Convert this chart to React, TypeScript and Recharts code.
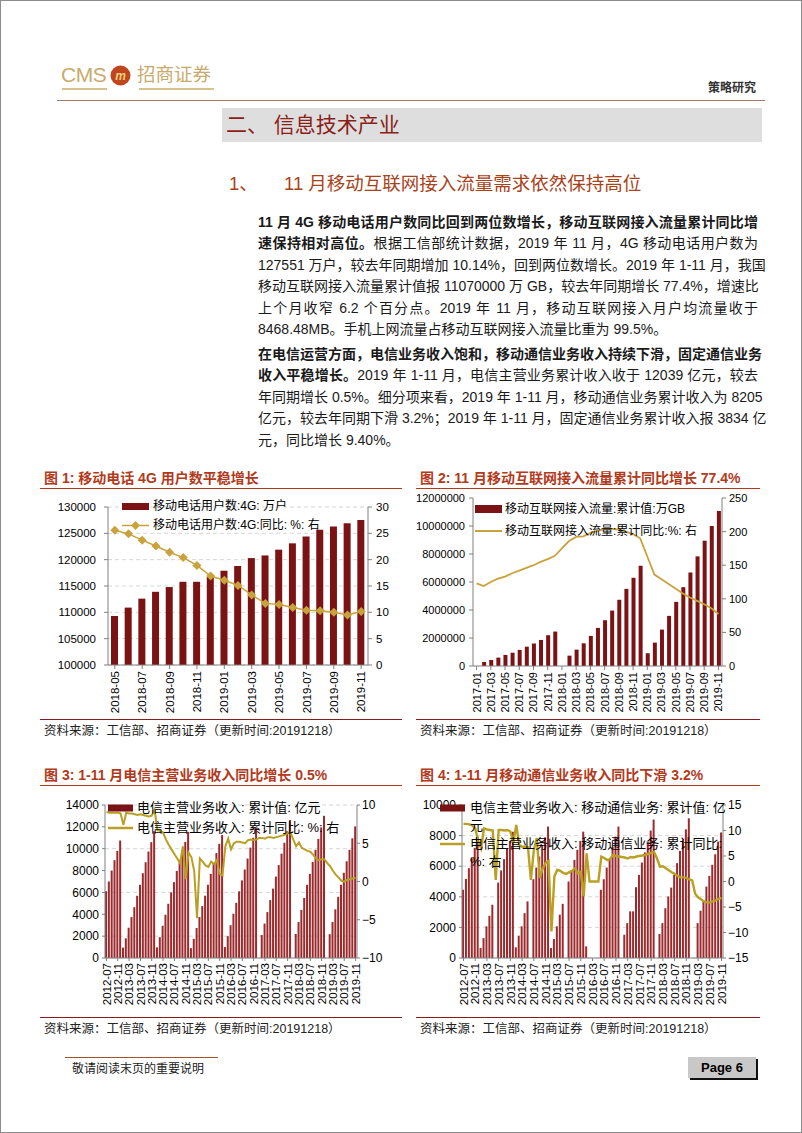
import React from "react";
import { ComposedChart, Bar, Line, XAxis, YAxis, CartesianGrid, Legend } from "recharts";

const FONT = '"Liberation Sans", Arial, "Noto Sans CJK SC", sans-serif';
const BAR = "#7b1214";
const GOLD = "#c9a23c";
const OLIVE = "#b9a024";
const AX = "#808080";
const RED_T = "#b23a1c";

// ---------- chart 1: 4G users ----------
const months1 = "2018-05 2018-06 2018-07 2018-08 2018-09 2018-10 2018-11 2018-12 2019-01 2019-02 2019-03 2019-04 2019-05 2019-06 2019-07 2019-08 2019-09 2019-10 2019-11".split(" ");
const users4g = [109300, 110900, 112600, 113900, 114800, 115800, 115800, 116700, 117900, 118800, 120300, 120800, 121900, 123100, 124400, 125700, 126300, 126900, 127551];
const users4gYoy = [25.6, 24.9, 23.7, 22.6, 21.4, 20.4, 18.9, 16.9, 16.1, 15.1, 13.3, 11.7, 11.5, 10.9, 10.4, 10.3, 10.0, 9.5, 10.14];
const ticks1L = [100000, 105000, 110000, 115000, 120000, 125000, 130000];
const ticks1R = [0, 5, 10, 15, 20, 25, 30];

// ---------- chart 2: mobile internet traffic ----------
const months2 = (
  "2017-01 2017-02 2017-03 2017-04 2017-05 2017-06 2017-07 2017-08 2017-09 2017-10 2017-11 2017-12 " +
  "2018-01 2018-02 2018-03 2018-04 2018-05 2018-06 2018-07 2018-08 2018-09 2018-10 2018-11 2018-12 " +
  "2019-01 2019-02 2019-03 2019-04 2019-05 2019-06 2019-07 2019-08 2019-09 2019-10 2019-11"
).split(" ");
const traffic = [
  null, 290000, 430000, 600000, 790000, 950000, 1150000, 1380000, 1600000, 1860000, 2200000, 2460000,
  null, 740000, 1170000, 1620000, 2150000, 2720000, 3270000, 3960000, 4730000, 5510000, 6300000, 7160000,
  910000, 1670000, 2600000, 3580000, 4580000, 5630000, 6680000, 7830000, 8950000, 10000000, 11070000,
];
const trafficYoy = [
  123, 119, 125, 130, 133, 138, 142, 146, 150, 155, 159, 164,
  175, 186, 192, 193, 198, 201, 204, 204, 203, 200, 196, 190,
  163, 136, 129, 122, 115, 108, 102, 97, 92, 86, 77.4,
];
const ticks2L = [0, 2000000, 4000000, 6000000, 8000000, 10000000, 12000000];
const ticks2R = [0, 50, 100, 150, 200, 250];

// ---------- charts 3 & 4: monthly categories ----------
const months3 = (
  "2012-07 2012-08 2012-09 2012-10 2012-11 2012-12 " +
  "2013-01 2013-02 2013-03 2013-04 2013-05 2013-06 2013-07 2013-08 2013-09 2013-10 2013-11 2013-12 " +
  "2014-01 2014-02 2014-03 2014-04 2014-05 2014-06 2014-07 2014-08 2014-09 2014-10 2014-11 2014-12 " +
  "2015-01 2015-02 2015-03 2015-04 2015-05 2015-06 2015-07 2015-08 2015-09 2015-10 2015-11 2015-12 " +
  "2016-01 2016-02 2016-03 2016-04 2016-05 2016-06 2016-07 2016-08 2016-09 2016-10 2016-11 2016-12 " +
  "2017-01 2017-02 2017-03 2017-04 2017-05 2017-06 2017-07 2017-08 2017-09 2017-10 2017-11 2017-12 " +
  "2018-01 2018-02 2018-03 2018-04 2018-05 2018-06 2018-07 2018-08 2018-09 2018-10 2018-11 2018-12 " +
  "2019-01 2019-02 2019-03 2019-04 2019-05 2019-06 2019-07 2019-08 2019-09 2019-10 2019-11"
).split(" ");

const telecomRev = [
  6100, 7000, 8000, 8950, 9800, 10750,
  950, 1800, 2770, 3740, 4650, 5690, 6700, 7760, 8760, 9740, 10600, 11600,
  970, 1900, 2950, 3960, 4960, 6000, 6940, 7970, 8980, 9900, 10620, 11540,
  900, 1750, 2750, 3750, 4750, 5700, 6700, 7700, 8700, 9600, 10450, 11250,
  1000, 2000, 3000, 4050, 5050, 6100, 7100, 8100, 9100, 10100, 11000, 11900,
  null, 2100, 3150, 4200, 5300, 6350, 7450, 8500, 9550, 10550, 11600, 12620,
  null, 2200, 3300, 4400, 5500, 6700, 7700, 8800, 9900, 10900, 11950, 13010,
  null, 2180, 3300, 4450, 5600, 6700, 7800, 8850, 9900, 10950, 12039,
];
const telecomYoy = [
  9.1, 9.0, 9.0, 9.0, 9.0, 8.9,
  7.4, 9.0, 8.9, 8.9, 8.8, 8.7, 8.8, 8.7, 8.6, 8.5, 8.6, 9.4,
  6.7, 6.6, 6.4, 5.5, 4.8, 4.2, 3.6, 3.0, 2.4, 4.6, 0.3, 3.8,
  3.2, 1.4, -4.8, 3.0, 2.6, 2.1, 1.9, 2.6, 2.3, 2.8, 1.0, 0.8,
  4.6, 5.6, 4.2, 5.0, 5.2, 5.2, 5.1, 5.0, 5.4, 5.5, 5.4, 5.5,
  5.7, 5.7, 5.6, 5.8, 5.8, 5.7, 5.8, 5.9, 6.0, 6.1, 6.3, 6.4,
  5.5, 4.6, 5.1, 4.4, 4.2, 4.0, 3.9, 3.5, 3.0, 2.8, 2.9, 2.9,
  2.4, 2.0, 1.4, 0.9, 0.5, 0.1, 0.0, 0.2, 0.3, 0.4, 0.5,
];
const ticks3L = [0, 2000, 4000, 6000, 8000, 10000, 12000, 14000];
const ticks3R = [-10, -5, 0, 5, 10];

const mobileRev = [
  4460, 5170, 5870, 6520, 7200, 7930,
  650, 1300, 2070, 2760, 3480, null, 4930, 5720, 6460, 7150, 7650, 8250,
  700, 1460, 2070, 2930, 3700, null, 5150, 5910, 6630, 7390, 7890, 8590,
  650, 1240, 2070, 2830, 3540, null, 5000, 5720, 6410, 7070, 7650, 8260,
  760, null, null, null, null, 4460, 5150, 5910, 6410, 7280, 7930, 8590,
  null, 1520, 2280, 3050, 3050, 4630, 5430, 6240, 6900, 7620, 8330, 9050,
  null, 1570, 2280, 3250, 4020, 4600, 5430, 6200, 7000, 7760, 8410, 9130,
  null, null, 2280, 3090, 3760, 4670, 5370, 6090, 6780, 7610, 8205,
];
const mobileYoy = [
  11.3, 11.3, 11.2, 11.0, 10.4, 8.0,
  6.5, 10.4, 10.2, 10.1, 10.0, 0.3, 10.1, 10.1, 10.0, 10.1, 9.8, 7.5,
  11.1, 7.2, 6.8, 6.8, 6.7, 0.3, 6.2, 8.5, 0.7, 2.5, 3.6, 4.0,
  -9.8, 1.0, 2.3, 2.1, 1.7, 1.5, 1.8, 2.1, 2.6, 1.6, 1.9, -2.9,
  5.5, 0, 0, 0, 0, 4.9, 4.6, 4.2, 4.4, 5.2, 5.0, 4.9,
  4.8, 4.7, 4.5, 4.8, 4.7, 4.9, 5.0, 5.1, 5.2, 5.4, 5.6, 5.8,
  4.5, 2.9, 3.0, 2.6, 2.2, 1.8, 1.5, 1.1, 0.8, 0.8, 0.7, 0.4,
  0.2, -2.4, -3.1, -3.5, -3.9, -4.1, -4.1, -3.9, -3.7, -3.4, -3.2,
];
const ticks4L = [0, 2000, 4000, 6000, 8000, 10000];
const ticks4R = [-15, -10, -5, 0, 5, 10, 15];

const data1 = months1.map((m, i) => ({ m, v: users4g[i], y: users4gYoy[i] }));
const data2 = months2.map((m, i) => ({ m, v: traffic[i], y: trafficYoy[i] }));
const data3 = months3.map((m, i) => ({ m, v: telecomRev[i], y: telecomYoy[i] }));
const data4 = months3.map((m, i) => ({ m, v: mobileRev[i], y: mobileYoy[i] }));

const minus = (v: number) => String(v).replace("-", "−");

// rotated x tick, reads bottom-to-top
function VTick(props: any) {
  const { x, y, payload, fs } = props;
  return (
    <text
      x={x}
      y={y}
      transform={`rotate(-90 ${x} ${y})`}
      textAnchor="end"
      dy="0.36em"
      fontSize={fs}
      fontFamily={FONT}
      fill="#000"
    >
      {payload.value}
    </text>
  );
}

function Diamond(props: any) {
  const { cx, cy } = props;
  if (cx == null || cy == null) return <g />;
  const r = 4.5;
  return <path d={`M${cx},${cy - r}L${cx + r},${cy}L${cx},${cy + r}L${cx - r},${cy}Z`} fill={GOLD} />;
}

type LegItem = { kind: "bar" | "line" | "dia"; color: string; lines: string[]; lw?: number };

function LegendBlock({ items, sw, sh, lh, fs, gap }: { items: LegItem[]; sw: number; sh: number; lh: number; fs: number; gap: number }) {
  return (
    <div style={{ fontFamily: FONT, fontSize: fs, lineHeight: `${lh}px`, color: "#000" }}>
      {items.map((it, i) => (
        <div key={i} style={{ display: "flex" }}>
          <svg width={sw} height={lh} style={{ flex: "none", display: "block" }}>
            {it.kind === "bar" ? (
              <rect x={0} y={(lh - sh) / 2} width={sw} height={sh} fill={it.color} />
            ) : (
              <g>
                <line x1={0} x2={sw} y1={lh / 2} y2={lh / 2} stroke={it.color} strokeWidth={it.lw || 2} />
                {it.kind === "dia" && <Diamond cx={sw / 2} cy={lh / 2} />}
              </g>
            )}
          </svg>
          <div style={{ marginLeft: gap, whiteSpace: "nowrap" }}>
            {it.lines.map((l, j) => (
              <div key={j}>{l}</div>
            ))}
          </div>
        </div>
      ))}
    </div>
  );
}

const tickStyle = (fs: number) => ({ fontSize: fs, fill: "#000", fontFamily: FONT });

function Title({ x, y, w, text }: { x: number; y: number; w: number; text: string }) {
  return (
    <>
      <div style={{ position: "absolute", left: x + 4, top: y - 10, fontSize: 14, fontWeight: 700, color: RED_T, whiteSpace: "nowrap", lineHeight: "20px" }}>
        {text}
      </div>
      <div style={{ position: "absolute", left: x, top: y + 10, width: w, height: 1, background: RED_T }} />
    </>
  );
}

function Source({ x, y, w }: { x: number; y: number; w: number }) {
  return (
    <>
      <div style={{ position: "absolute", left: x, top: y, width: w, height: 1, background: "#8b1a1a" }} />
      <div style={{ position: "absolute", left: x + 4, top: y + 3, fontSize: 12.5, color: "#222", whiteSpace: "nowrap", lineHeight: "18px" }}>
        资料来源：工信部、招商证券（更新时间:20191218）
      </div>
    </>
  );
}

function Chart1() {
  return (
    <div style={{ position: "absolute", left: 40, top: 495 }}>
      <ComposedChart width={370} height={225} data={data1} margin={{ top: 12, right: 12, bottom: 5, left: 8 }}>
        <CartesianGrid yAxisId="l" vertical={false} stroke="#d6d6d6" strokeDasharray="4 3" />
        <XAxis dataKey="m" interval={1} height={50} tickSize={4} tickMargin={2} tick={<VTick fs={11.5} />} axisLine={{ stroke: AX }} tickLine={{ stroke: AX }} />
        <YAxis yAxisId="l" domain={[100000, 130000]} ticks={ticks1L} width={60} tickSize={4} tickMargin={8} tick={tickStyle(11.5)} axisLine={{ stroke: AX }} tickLine={{ stroke: AX }} />
        <YAxis yAxisId="r" orientation="right" domain={[0, 30]} ticks={ticks1R} width={30} tickSize={4} tickMargin={4} tick={tickStyle(11.5)} axisLine={{ stroke: AX }} tickLine={{ stroke: AX }} />
        <Bar yAxisId="l" dataKey="v" name="移动电话用户数:4G: 万户" fill={BAR} barSize={7} isAnimationActive={false} />
        <Line yAxisId="r" dataKey="y" name="移动电话用户数:4G:同比: %: 右" stroke={GOLD} strokeWidth={1.5} dot={Diamond} isAnimationActive={false} />
        <Legend
          layout="vertical"
          verticalAlign="middle"
          align="center"
          wrapperStyle={{ left: 82, top: 2, width: 250 }}
          content={() => (
            <LegendBlock
              sw={27}
              sh={7}
              lh={19}
              fs={12}
              gap={4}
              items={[
                { kind: "bar", color: BAR, lines: ["移动电话用户数:4G: 万户"] },
                { kind: "dia", color: GOLD, lw: 1.5, lines: ["移动电话用户数:4G:同比: %: 右"] },
              ]}
            />
          )}
        />
      </ComposedChart>
    </div>
  );
}

function Chart2() {
  return (
    <div style={{ position: "absolute", left: 405, top: 488 }}>
      <ComposedChart width={397} height={232} data={data2} margin={{ top: 10, right: 40, bottom: 4, left: 3 }}>
        <XAxis dataKey="m" interval={1} height={50} tickSize={4} tickMargin={2} tick={<VTick fs={11} />} axisLine={{ stroke: AX }} tickLine={{ stroke: AX }} />
        <YAxis yAxisId="l" domain={[0, 12000000]} ticks={ticks2L} width={65} tickSize={4} tickMargin={4} tick={tickStyle(11)} axisLine={{ stroke: AX }} tickLine={{ stroke: AX }} />
        <YAxis yAxisId="r" orientation="right" domain={[0, 250]} ticks={ticks2R} width={40} tickSize={4} tickMargin={3} tick={tickStyle(11)} axisLine={{ stroke: AX }} tickLine={{ stroke: AX }} />
        <Bar yAxisId="l" dataKey="v" name="移动互联网接入流量:累计值:万GB" fill={BAR} barSize={4} isAnimationActive={false} />
        <Line yAxisId="r" dataKey="y" name="移动互联网接入流量:累计同比:%: 右" stroke={GOLD} strokeWidth={1.8} dot={false} isAnimationActive={false} />
        <Legend
          layout="vertical"
          verticalAlign="middle"
          align="center"
          wrapperStyle={{ left: 70, top: 10, width: 260 }}
          content={() => (
            <LegendBlock
              sw={27}
              sh={8}
              lh={22}
              fs={12}
              gap={3}
              items={[
                { kind: "bar", color: BAR, lines: ["移动互联网接入流量:累计值:万GB"] },
                { kind: "line", color: GOLD, lw: 2, lines: ["移动互联网接入流量:累计同比:%: 右"] },
              ]}
            />
          )}
        />
      </ComposedChart>
    </div>
  );
}

function Chart3() {
  return (
    <div style={{ position: "absolute", left: 40, top: 795 }}>
      <ComposedChart width={370} height={220} data={data3} margin={{ top: 10, right: 18, bottom: 5, left: 5 }}>
        <CartesianGrid yAxisId="l" vertical={false} stroke="#d6d6d6" strokeDasharray="4 3" />
        <XAxis dataKey="m" interval={3} height={52} tickSize={3} tickMargin={2} tick={<VTick fs={11.5} />} axisLine={{ stroke: AX }} tickLine={{ stroke: AX }} />
        <YAxis yAxisId="l" domain={[0, 14000]} ticks={ticks3L} width={60} tickSize={3} tickMargin={3} tick={tickStyle(12)} axisLine={{ stroke: AX }} tickLine={{ stroke: AX }} />
        <YAxis yAxisId="r" orientation="right" domain={[-10, 10]} ticks={ticks3R} width={35} tickSize={3} tickMargin={2} tick={tickStyle(12)} tickFormatter={minus} axisLine={{ stroke: AX }} tickLine={{ stroke: AX }} />
        <Bar yAxisId="l" dataKey="v" name="电信主营业务收入: 累计值: 亿元" fill="#9a2a2c" barSize={2} isAnimationActive={false} />
        <Line yAxisId="r" dataKey="y" name="电信主营业务收入: 累计同比: %: 右" stroke={OLIVE} strokeWidth={2} dot={false} isAnimationActive={false} />
        <Legend
          layout="vertical"
          verticalAlign="middle"
          align="center"
          wrapperStyle={{ left: 68, top: 3, width: 260 }}
          content={() => (
            <LegendBlock
              sw={25}
              sh={7}
              lh={20}
              fs={13}
              gap={4}
              items={[
                { kind: "bar", color: BAR, lines: ["电信主营业务收入: 累计值: 亿元"] },
                { kind: "line", color: OLIVE, lw: 2.5, lines: ["电信主营业务收入: 累计同比: %: 右"] },
              ]}
            />
          )}
        />
      </ComposedChart>
    </div>
  );
}

function Chart4() {
  return (
    <div style={{ position: "absolute", left: 405, top: 795 }}>
      <ComposedChart width={397} height={220} data={data4} margin={{ top: 10, right: 39, bottom: 5, left: 3 }}>
        <CartesianGrid yAxisId="l" vertical={false} stroke="#d6d6d6" strokeDasharray="4 3" />
        <XAxis dataKey="m" interval={3} height={52} tickSize={3} tickMargin={2} tick={<VTick fs={11.5} />} axisLine={{ stroke: AX }} tickLine={{ stroke: AX }} />
        <YAxis yAxisId="l" domain={[0, 10000]} ticks={ticks4L} width={54} tickSize={3} tickMargin={3} tick={tickStyle(12)} axisLine={{ stroke: AX }} tickLine={{ stroke: AX }} />
        <YAxis yAxisId="r" orientation="right" domain={[-15, 15]} ticks={ticks4R} width={40} tickSize={3} tickMargin={2} tick={tickStyle(12)} tickFormatter={minus} axisLine={{ stroke: AX }} tickLine={{ stroke: AX }} />
        <Bar yAxisId="l" dataKey="v" name="电信主营业务收入: 移动通信业务: 累计值: 亿元" fill="#9a2a2c" barSize={2} isAnimationActive={false} />
        <Line yAxisId="r" dataKey="y" name="电信主营业务收入: 移动通信业务: 累计同比: %: 右" stroke={OLIVE} strokeWidth={2.4} dot={false} isAnimationActive={false} />
        <Legend
          layout="vertical"
          verticalAlign="middle"
          align="center"
          wrapperStyle={{ left: 35, top: 4, width: 300 }}
          content={() => (
            <LegendBlock
              sw={25}
              sh={7}
              lh={18}
              fs={13}
              gap={5}
              items={[
                { kind: "bar", color: BAR, lines: ["电信主营业务收入: 移动通信业务: 累计值: 亿", "元"] },
                { kind: "line", color: OLIVE, lw: 2.5, lines: ["电信主营业务收入: 移动通信业务: 累计同比:", "%: 右"] },
              ]}
            />
          )}
        />
      </ComposedChart>
    </div>
  );
}

const para1: { b?: string; t: string }[] = [
  { b: "11 月 4G 移动电话用户数同比回到两位数增长，移动互联网接入流量累计同比增", t: "" },
  { b: "速保持相对高位。", t: "根据工信部统计数据，2019 年 11 月，4G 移动电话用户数为" },
  { t: "127551 万户，较去年同期增加 10.14%，回到两位数增长。2019 年 1-11 月，我国" },
  { t: "移动互联网接入流量累计值报 11070000 万 GB，较去年同期增长 77.4%，增速比" },
  { t: "上个月收窄 6.2 个百分点。2019 年 11 月，移动互联网接入月户均流量收于" },
  { t: "8468.48MB。手机上网流量占移动互联网接入流量比重为 99.5%。" },
];
const para2: { b?: string; t: string }[] = [
  { b: "在电信运营方面，电信业务收入饱和，移动通信业务收入持续下滑，固定通信业务", t: "" },
  { b: "收入平稳增长。", t: "2019 年 1-11 月，电信主营业务累计收入收于 12039 亿元，较去" },
  { t: "年同期增长 0.5%。细分项来看，2019 年 1-11 月，移动通信业务累计收入为 8205" },
  { t: "亿元，较去年同期下滑 3.2%；2019 年 1-11 月，固定通信业务累计收入报 3834 亿" },
  { t: "元，同比增长 9.40%。" },
];

function Para({ lines, top, lh }: { lines: { b?: string; t: string }[]; top: number; lh: number }) {
  return (
    <div style={{ position: "absolute", left: 258, top, width: 500, fontSize: 14, color: "#1a1a1a" }}>
      {lines.map((l, i) => (
        <div
          key={i}
          style={{
            height: lh,
            lineHeight: `${lh}px`,
            whiteSpace: "nowrap",
            textAlign: "justify",
            textAlignLast: i === lines.length - 1 ? "left" : "justify",
          } as React.CSSProperties}
        >
          {l.b && <span style={{ fontWeight: 700 }}>{l.b}</span>}
          {l.t}
        </div>
      ))}
    </div>
  );
}

export default function App() {
  return (
    <div style={{ position: "absolute", left: 0, top: 0, width: 802, height: 1133, background: "#fff", fontFamily: FONT, overflow: "hidden" }}>
      <div style={{ position: "absolute", left: 0, top: 0, width: 802, height: 1133, border: "1px solid #8c8c8c", boxSizing: "border-box" }} />

      {/* header */}
      <div style={{ position: "absolute", left: 61, top: 62, fontSize: 21, color: "#c9aa6c", lineHeight: "26px", letterSpacing: -0.5 }}>CMS</div>
      <svg style={{ position: "absolute", left: 110, top: 65 }} width={21} height={21}>
        <circle cx={10.5} cy={10.5} r={10} fill="#c0461e" />
        <text x={10.5} y={15} textAnchor="middle" fontSize={12} fontWeight={700} fill="#f2d27a" fontFamily={FONT} fontStyle="italic">m</text>
      </svg>
      <div style={{ position: "absolute", left: 137, top: 63, fontSize: 18.5, color: "#c9aa6c", lineHeight: "24px", whiteSpace: "nowrap" }}>招商证券</div>
      <div style={{ position: "absolute", left: 62, top: 88, width: 45, height: 1.5, background: "#d9c18d" }} />
      <div style={{ position: "absolute", left: 139, top: 88, width: 75, height: 1.5, background: "#d9c18d" }} />
      <div style={{ position: "absolute", left: 708, top: 80, fontSize: 12, fontWeight: 700, color: "#333", lineHeight: "16px", whiteSpace: "nowrap" }}>策略研究</div>
      <div style={{ position: "absolute", left: 57, top: 100, width: 708, height: 1, background: "#a8776a" }} />

      <div style={{ position: "absolute", left: 222, top: 108, width: 540, height: 34, background: "#dedede" }} />
      <div style={{ position: "absolute", left: 226, top: 108, fontSize: 21, color: "#8a1f1a", lineHeight: "34px", whiteSpace: "nowrap" }}>二、 信息技术产业</div>

      <div style={{ position: "absolute", left: 229, top: 172, fontSize: 18.5, color: "#a8421a", lineHeight: "24px", whiteSpace: "nowrap" }}>1、</div>
      <div style={{ position: "absolute", left: 284, top: 172, fontSize: 18.5, color: "#a8421a", lineHeight: "24px", whiteSpace: "nowrap" }}>11 月移动互联网接入流量需求依然保持高位</div>

      <Para lines={para1} top={211.5} lh={21.5} />
      <Para lines={para2} top={343.5} lh={21.5} />

      <Title x={40} y={478} w={362} text="图 1: 移动电话 4G 用户数平稳增长" />
      <Title x={416} y={478} w={344} text="图 2: 11 月移动互联网接入流量累计同比增长 77.4%" />
      <Chart1 />
      <Chart2 />
      <Source x={40} y={719} w={362} />
      <Source x={416} y={719} w={344} />

      <Title x={40} y={775} w={362} text="图 3: 1-11 月电信主营业务收入同比增长 0.5%" />
      <Title x={416} y={775} w={344} text="图 4: 1-11 月移动通信业务收入同比下滑 3.2%" />
      <Chart3 />
      <Chart4 />
      <Source x={40} y={1017} w={362} />
      <Source x={416} y={1017} w={344} />

      {/* footer */}
      <div style={{ position: "absolute", left: 65, top: 1057, width: 153, height: 1, background: "#a0522d" }} />
      <div style={{ position: "absolute", left: 72, top: 1061, fontSize: 12, color: "#222", lineHeight: "16px", whiteSpace: "nowrap" }}>敬请阅读末页的重要说明</div>
      <div
        style={{
          position: "absolute",
          left: 688,
          top: 1057,
          width: 68,
          height: 21,
          background: "#c8c8c8",
          boxShadow: "2px 2px 0 #111",
          fontSize: 13,
          fontWeight: 700,
          lineHeight: "21px",
          textAlign: "center",
          color: "#000",
        }}
      >
        Page 6
      </div>
    </div>
  );
}
